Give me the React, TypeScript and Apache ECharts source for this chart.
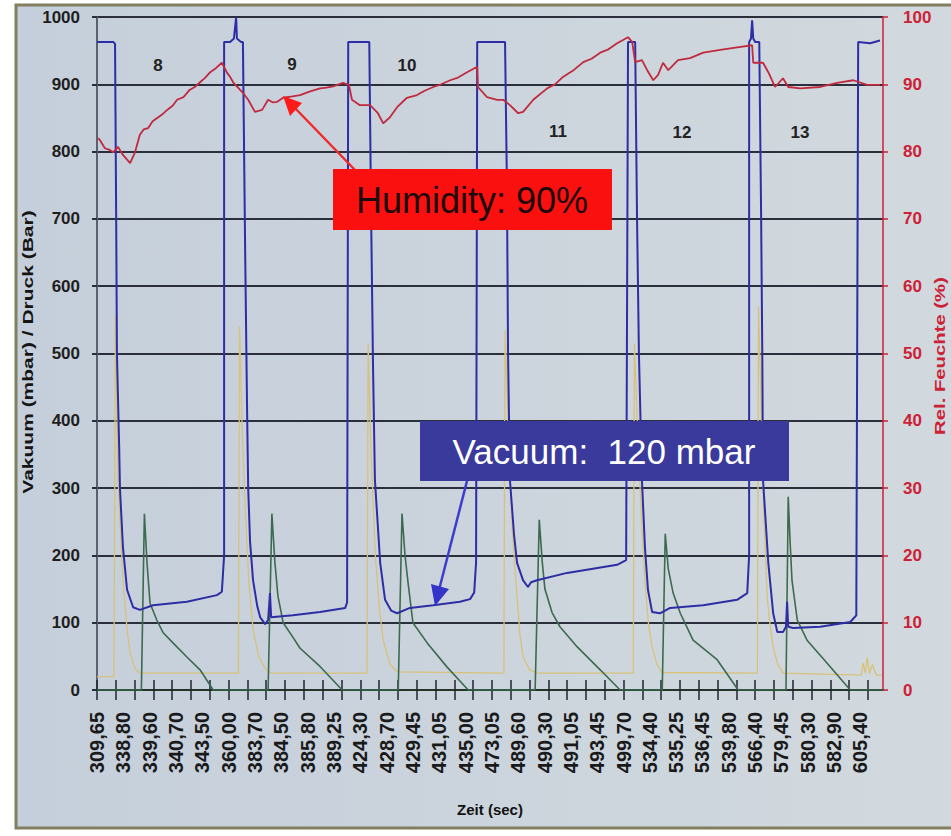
import React, { useEffect, useRef } from "react";
import * as echarts from "echarts";

// ---------- data ----------
const TIME_LABELS = [
  "309,65", "338,80", "339,60", "340,70", "343,50", "360,00", "383,70", "384,50", "385,80", "389,25",
  "424,30", "428,70", "429,45", "431,05", "435,00", "473,05", "489,60", "490,30", "491,05", "493,45",
  "499,70", "534,40", "535,25", "536,45", "539,80", "566,40", "579,45", "580,30", "582,90", "605,40",
];
const SAMPLE_COUNT = 210; // samples along the time axis
const LABEL_STEP = 7; // one time label every 7 samples
const TICK_STEP = 5; // one tick every 5 samples

const CYCLE_NUMBERS = ["8", "9", "10", "11", "12", "13"];

// [sample index, mbar]
const VACUUM: [number, number][] = [
  [0, 963], [4.3, 963], [4.8, 960], [5.1, 700], [5.3, 500], [5.9, 360], [6.1, 300], [6.9, 212], [8.0, 149],
  [9.6, 123], [11.4, 119], [14.9, 126], [23.9, 131], [31.9, 141], [33.2, 146], [33.8, 200], [33.8, 963],
  [35.4, 963], [36.4, 968], [37.0, 1000], [37.2, 968], [38.3, 963], [38.8, 963], [39.4, 650], [39.9, 420],
  [40.2, 300], [40.7, 220], [41.5, 163], [42.6, 125], [43.4, 108], [44.7, 98], [45.5, 104], [46.0, 144],
  [46.3, 108], [52.1, 111], [59.3, 116], [66.0, 122], [66.5, 130], [66.8, 963], [72.4, 963], [72.9, 700],
  [73.4, 480], [73.9, 312], [75.3, 189], [76.6, 134], [78.2, 118], [79.8, 114], [83.2, 122], [89.4, 126],
  [96.5, 131], [99.2, 135], [100.3, 145], [100.8, 190], [101.1, 963], [108.5, 963], [109.0, 750], [109.3, 500],
  [109.8, 312], [110.9, 230], [111.7, 189], [113.3, 163], [114.6, 153], [115.4, 160], [117.0, 163], [125.0, 174],
  [138.3, 186], [140.7, 193], [141.2, 963], [143.1, 963], [143.6, 700], [144.1, 500], [144.9, 312], [145.7, 212],
  [146.5, 149], [147.6, 116], [149.7, 114], [152.4, 122], [161.2, 126], [170.2, 134], [172.9, 144], [173.4, 200],
  [173.4, 963], [173.9, 968], [174.2, 995], [174.5, 968], [175.0, 963], [176.1, 963], [176.6, 700], [176.9, 500],
  [177.1, 312], [178.5, 189], [179.8, 114], [180.9, 86], [182.4, 86], [183.2, 94], [183.5, 131], [183.8, 94],
  [185.1, 92], [192.3, 94], [200.3, 101], [201.9, 111], [202.4, 963], [205.6, 961], [208.2, 965],
];

// [sample index, bar-signal on left axis]
const PRESSURE_GREEN: [number, number][] = [
  [0, 0], [11.8, 0], [12.6, 262], [13.3, 189], [14.1, 129], [15.9, 104], [17.6, 85], [20.2, 70], [23.9, 49],
  [27.4, 30], [30.9, 0],
  [45.5, 0], [46.5, 262], [47.3, 190], [48.1, 140], [49.5, 100], [51.9, 80], [54.0, 62], [59.3, 35], [65.2, 0],
  [80.1, 0], [81.1, 262], [81.9, 200], [82.7, 160], [84.0, 100], [87.8, 70], [93.1, 34], [98.7, 0],
  [116.5, 0], [117.6, 253], [118.4, 190], [119.1, 150], [121.0, 115], [123.1, 94], [127.7, 64], [133.8, 30], [139.1, 0],
  [150.3, 0], [151.1, 232], [151.9, 180], [153.2, 144], [155.1, 114], [158.5, 74], [164.9, 45], [170.5, 0],
  [183.2, 0], [183.8, 287], [184.3, 220], [184.8, 163], [186.2, 104], [188.8, 74], [194.1, 40], [200.3, 0], [209, 0],
];

// [sample index, value on left axis]
const PRESSURE_YELLOW: [number, number][] = [
  [0, 20], [4.5, 20], [4.9, 557], [5.3, 420], [5.6, 312], [6.9, 163], [8.0, 90], [8.8, 55], [10.1, 32], [11.4, 25],
  [37.6, 25], [37.9, 540], [38.6, 390], [39.4, 270], [40.4, 160], [41.5, 90], [43.0, 50], [44.7, 32], [46.5, 25],
  [71.8, 25], [72.1, 515], [72.9, 350], [74.0, 200], [75.1, 120], [76.1, 74], [77.9, 38], [79.8, 27],
  [108.2, 25], [108.5, 535], [109.4, 380], [110.4, 240], [111.7, 138], [112.5, 80], [113.3, 49], [115.0, 30], [117.0, 25],
  [142.6, 25], [142.9, 515], [143.8, 380], [144.8, 250], [145.7, 163], [146.6, 100], [147.6, 64], [148.9, 38], [150.3, 26],
  [175.6, 25], [175.9, 570], [176.7, 400], [177.4, 250], [178.2, 138], [179.0, 95], [179.8, 64], [181.0, 38], [182.4, 25],
  [203.2, 22], [203.7, 40], [204.3, 25], [204.8, 48], [205.4, 25], [206.2, 38], [207.2, 22], [208.6, 22],
];

// [sample index, relative humidity %]
const HUMIDITY: [number, number][] = [
  [0.3, 82.0], [0.8, 81.7], [2.1, 80.5], [3.2, 80.3], [4.3, 79.9], [5.6, 80.7], [6.9, 79.5], [8.8, 78.3],
  [10.1, 79.9], [11.4, 82.5], [12.4, 83.3], [13.6, 83.5], [14.8, 84.5], [16.0, 85.0], [17.5, 85.6], [18.9, 86.3],
  [20.1, 86.8], [21.3, 87.7], [23.0, 88.1], [24.7, 89.2], [26.0, 89.6], [27.4, 90.3], [28.8, 91.0], [30.1, 91.8],
  [31.6, 92.4], [33.2, 93.2], [34.6, 91.7], [35.4, 91.1], [36.2, 90.3], [38.0, 89.2], [39.0, 88.6], [40.2, 87.7],
  [42.0, 85.9], [43.9, 86.2], [45.5, 87.7], [46.8, 87.3], [47.9, 87.4], [49.5, 88.0], [52.0, 88.2], [54.0, 88.4],
  [56.5, 88.9], [59.3, 89.4], [61.0, 89.5], [62.8, 89.7], [65.4, 90.2], [67.0, 89.9], [67.8, 87.7], [69.9, 86.9],
  [72.6, 86.9], [74.7, 85.7], [76.1, 84.2], [77.9, 85.1], [79.8, 86.6], [82.4, 88.0], [85.1, 88.4], [87.0, 89.0],
  [89.4, 89.6], [91.5, 90.0], [93.9, 90.6], [96.0, 91.0], [98.4, 91.8], [101.1, 92.6], [101.3, 89.6], [103.7, 88.1],
  [106.4, 87.7], [108.0, 87.7], [109.8, 86.9], [112.0, 85.7], [113.3, 85.9], [116.0, 87.7], [119.7, 89.4],
  [121.8, 90.0], [123.9, 91.1], [126.5, 92.0], [129.3, 93.3], [131.5, 93.8], [133.8, 94.7], [136.0, 95.2],
  [138.3, 96.1], [141.2, 97.0], [142.3, 96.3], [143.1, 93.3], [144.9, 93.6], [146.3, 92.1], [147.9, 90.6],
  [149.2, 91.4], [150.5, 93.2], [151.9, 92.1], [154.5, 93.6], [157.7, 93.9], [161.2, 94.7], [165.7, 95.1],
  [170.2, 95.5], [174.2, 95.8], [174.5, 93.2], [177.1, 93.2], [178.5, 91.8], [180.3, 89.6], [182.4, 90.9],
  [183.8, 89.6], [187.0, 89.4], [192.3, 89.6], [196.8, 90.2], [201.1, 90.6], [204.8, 89.9], [208.2, 89.9],
];

const FONT = "'Liberation Sans', Arial, Helvetica, sans-serif";

export default function App() {
  const ref = useRef<HTMLDivElement | null>(null);

  useEffect(() => {
    if (!ref.current) return;
    const chart = echarts.init(ref.current, undefined, { renderer: "svg" });

    const categories = Array.from({ length: SAMPLE_COUNT }, (_, i) =>
      i % LABEL_STEP === 0 && TIME_LABELS[i / LABEL_STEP] !== undefined ? TIME_LABELS[i / LABEL_STEP] : `s${i}`
    );

    const gridColor = "#2a2f3b";
    const red = "#cc2136";

    const cyclePos = [
      [158, 65], [292, 64], [407, 65], [558, 131], [682, 132], [800, 132],
    ];

    const option: any = {
      animation: false,
      backgroundColor: "transparent",
      grid: { left: 97, right: 68, top: 17, bottom: 146, containLabel: false },
      xAxis: [
        {
          type: "category",
          data: categories,
          boundaryGap: false,
          position: "bottom",
          axisLine: { show: true, lineStyle: { color: "#25342b", width: 2 } },
          axisTick: { show: true, interval: TICK_STEP - 1, length: 10, lineStyle: { color: "#1f2430", width: 1.5 } },
          axisLabel: {
            interval: LABEL_STEP - 1,
            rotate: 90,
            margin: 22,
            fontSize: 20,
            fontWeight: "bold",
            color: "#1a1a1a",
            fontFamily: FONT,
          },
          splitLine: { show: false },
          name: "Zeit (sec)",
          nameLocation: "middle",
          nameGap: 112,
          nameTextStyle: { fontSize: 15, fontWeight: "bold", color: "#111", fontFamily: FONT },
        },
        {
          type: "category",
          data: categories,
          boundaryGap: false,
          position: "bottom",
          axisLine: { show: false },
          axisTick: { show: true, inside: true, interval: TICK_STEP - 1, length: 10, lineStyle: { color: "#1f2430", width: 1.5 } },
          axisLabel: { show: false },
          splitLine: { show: false },
        },
        {
          type: "value",
          min: 0,
          max: SAMPLE_COUNT - 1,
          show: false,
        },
      ],
      yAxis: [
        {
          type: "value",
          min: 0,
          max: 1000,
          interval: 100,
          position: "left",
          axisLine: { show: true, lineStyle: { color: "#5b6170", width: 2 } },
          axisTick: { show: true, length: 5, lineStyle: { color: gridColor, width: 2 } },
          axisLabel: {
            margin: 17,
            fontSize: 17,
            fontWeight: "bold",
            color: "#1e1e1e",
            fontFamily: FONT,
            formatter: (v: number) => String(v),
          },
          splitLine: { show: true, lineStyle: { color: gridColor, width: 2 } },
        },
        {
          type: "value",
          min: 0,
          max: 100,
          interval: 10,
          position: "right",
          axisLine: { show: true, lineStyle: { color: red, width: 1.5 } },
          axisTick: { show: true, length: 5, lineStyle: { color: red, width: 1.5 } },
          axisLabel: {
            margin: 20,
            fontSize: 17,
            fontWeight: "bold",
            color: red,
            fontFamily: FONT,
            formatter: (v: number) => String(v),
          },
          splitLine: { show: false },
        },
      ],
      series: [
        {
          type: "line",
          name: "Druck 2",
          xAxisIndex: 2,
          yAxisIndex: 0,
          data: PRESSURE_YELLOW,
          symbol: "none",
          lineStyle: { color: "#d8c27a", width: 1.3 },
          z: 3,
        },
        {
          type: "line",
          name: "Druck",
          xAxisIndex: 2,
          yAxisIndex: 0,
          data: PRESSURE_GREEN,
          symbol: "none",
          lineStyle: { color: "#3b6a4e", width: 1.6 },
          z: 4,
        },
        {
          type: "line",
          name: "Vakuum",
          xAxisIndex: 2,
          yAxisIndex: 0,
          data: VACUUM,
          symbol: "none",
          lineStyle: { color: "#2d2da4", width: 2 },
          z: 5,
        },
        {
          type: "line",
          name: "Rel. Feuchte",
          xAxisIndex: 2,
          yAxisIndex: 1,
          data: HUMIDITY,
          symbol: "none",
          lineStyle: { color: "#c02a3e", width: 1.8 },
          z: 6,
        },
      ],
      graphic: [
        {
          type: "rect",
          z: -100,
          silent: true,
          shape: { x: 16, y: 5, width: 960, height: 823 },
          style: {
            fill: new echarts.graphic.LinearGradient(0, 0, 1, 0, [
              { offset: 0, color: "#c5cfdb" },
              { offset: 1, color: "#d2d9de" },
            ]),
            stroke: "#817f5f",
            lineWidth: 3,
          },
        },
        // left axis name
        {
          type: "text",
          x: 28,
          y: 352,
          rotation: Math.PI / 2,
          scaleX: 1.4,
          z: 10,
          style: {
            text: "Vakuum (mbar) / Druck (Bar)",
            fontSize: 15,
            fontWeight: "bold",
            fontFamily: FONT,
            fill: "#151515",
            align: "center",
            verticalAlign: "middle",
          },
        },
        // right axis name
        {
          type: "text",
          x: 940,
          y: 356,
          rotation: Math.PI / 2,
          scaleX: 1.45,
          z: 10,
          style: {
            text: "Rel. Feuchte (%)",
            fontSize: 14,
            fontWeight: "bold",
            fontFamily: FONT,
            fill: red,
            align: "center",
            verticalAlign: "middle",
          },
        },
        // cycle numbers
        ...CYCLE_NUMBERS.map((t, i) => ({
          type: "text",
          x: cyclePos[i][0],
          y: cyclePos[i][1],
          z: 10,
          style: {
            text: t,
            fontSize: 17,
            fontWeight: "bold",
            fontFamily: FONT,
            fill: "#222",
            align: "center",
            verticalAlign: "middle",
          },
        })),
        // humidity annotation
        {
          type: "line",
          z: 20,
          shape: { x1: 355, y1: 170, x2: 293, y2: 106 },
          style: { stroke: "#ee2a2a", lineWidth: 2.5 },
        },
        {
          type: "polygon",
          z: 20,
          shape: { points: [[283, 96], [302, 103], [290, 116]] },
          style: { fill: "#ff1a1a" },
        },
        {
          type: "rect",
          z: 20,
          shape: { x: 333, y: 169, width: 279, height: 61 },
          style: { fill: "#fb1010" },
        },
        {
          type: "text",
          z: 21,
          x: 472,
          y: 200,
          style: {
            text: "Humidity: 90%",
            fontSize: 36,
            fontFamily: FONT,
            fill: "#1c0a0a",
            align: "center",
            verticalAlign: "middle",
          },
        },
        // vacuum annotation
        {
          type: "line",
          z: 20,
          shape: { x1: 467, y1: 481, x2: 439, y2: 590 },
          style: { stroke: "#3d3dcc", lineWidth: 2.5 },
        },
        {
          type: "polygon",
          z: 20,
          shape: { points: [[435, 606], [449, 589], [431, 584]] },
          style: { fill: "#3434c8" },
        },
        {
          type: "rect",
          z: 20,
          shape: { x: 420, y: 421, width: 369, height: 60 },
          style: { fill: "#3a3a9c" },
        },
        {
          type: "text",
          z: 21,
          x: 604,
          y: 451,
          style: {
            text: "Vacuum:  120 mbar",
            fontSize: 35,
            fontFamily: FONT,
            fill: "#ffffff",
            align: "center",
            verticalAlign: "middle",
          },
        },
      ],
    };

    chart.setOption(option);
    return () => chart.dispose();
  }, []);

  return (
    <div style={{ position: "absolute", left: 0, top: 0, width: 951, height: 836, background: "#ffffff" }}>
      <div ref={ref} style={{ width: 951, height: 836 }} />
    </div>
  );
}
